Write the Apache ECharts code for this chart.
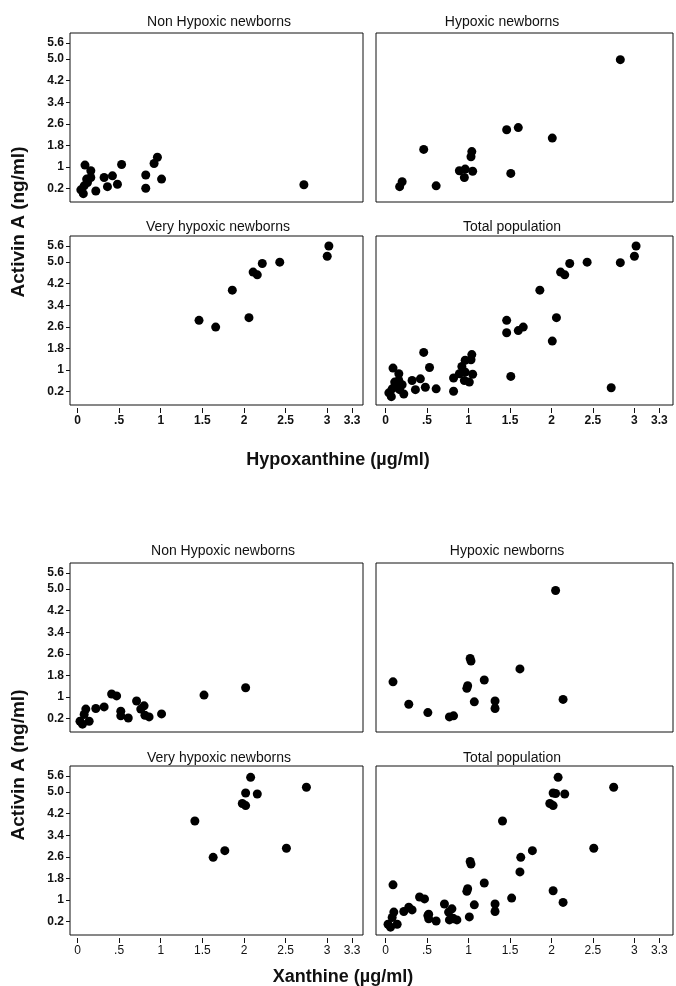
<!DOCTYPE html>
<html>
<head>
<meta charset="utf-8">
<script src="https://cdn.jsdelivr.net/npm/echarts@6/dist/echarts.min.js"></script>
<style>
  html, body { margin: 0; background: #fff; }
  #chart { width: 676px; height: 986px; }
</style>
</head>
<body>
<div id="chart"></div>
<script>
// panel titles, in order: top-left, top-right, bottom-left, bottom-right
var panelTitles = ['Non Hypoxic newborns', 'Hypoxic newborns', 'Very hypoxic newborns', 'Total population'];

var yTicks = [0.2, 1, 1.8, 2.6, 3.4, 4.2, 5.0, 5.6];
var yTickLabels = ['0.2', '1', '1.8', '2.6', '3.4', '4.2', '5.0', '5.6'];
var xTicks = [0, 0.5, 1, 1.5, 2, 2.5, 3, 3.3];
var xTickLabels = ['0', '.5', '1', '1.5', '2', '2.5', '3', '3.3'];

// Hypoxanthine (ug/ml) vs Activin A (ng/ml)
var hxNonHypoxic = [
  [0.09, 1.07], [0.16, 0.86], [0.16, 0.61], [0.11, 0.55], [0.12, 0.42], [0.08, 0.30],
  [0.04, 0.15], [0.07, 0.01], [0.22, 0.11], [0.32, 0.61], [0.36, 0.27], [0.42, 0.67],
  [0.48, 0.36], [0.53, 1.09], [0.82, 0.70], [0.82, 0.21], [0.92, 1.13], [0.96, 1.36],
  [1.01, 0.55], [2.72, 0.34]
];
var hxHypoxic = [
  [2.83, 4.98], [1.46, 2.38], [1.60, 2.46], [2.01, 2.07], [0.46, 1.65], [1.04, 1.57],
  [1.03, 1.38], [0.89, 0.86], [0.96, 0.92], [1.05, 0.84], [0.95, 0.61], [1.51, 0.76],
  [0.61, 0.30], [0.20, 0.45], [0.17, 0.27]
];
var hxVeryHypoxic = [
  [3.02, 5.60], [3.00, 5.22], [2.43, 5.00], [2.22, 4.95], [2.11, 4.63], [2.16, 4.53],
  [1.86, 3.96], [2.06, 2.94], [1.46, 2.84], [1.66, 2.59]
];

// Xanthine (ug/ml) vs Activin A (ng/ml)
var xnNonHypoxic = [
  [2.02, 1.34], [1.52, 1.07], [0.41, 1.11], [0.47, 1.04], [0.71, 0.85], [0.80, 0.67],
  [0.76, 0.55], [0.81, 0.32], [0.86, 0.26], [1.01, 0.37], [0.52, 0.47], [0.52, 0.30],
  [0.61, 0.22], [0.32, 0.63], [0.22, 0.57], [0.10, 0.55], [0.08, 0.35], [0.14, 0.10],
  [0.03, 0.10], [0.06, -0.01]
];
var xnHypoxic = [
  [2.05, 4.95], [1.02, 2.43], [1.03, 2.33], [1.62, 2.04], [1.19, 1.63], [0.99, 1.42],
  [0.98, 1.32], [0.09, 1.56], [0.28, 0.73], [1.07, 0.82], [1.32, 0.85], [1.32, 0.57],
  [2.14, 0.91], [0.51, 0.42], [0.77, 0.26], [0.82, 0.30]
];
var xnVeryHypoxic = [
  [2.08, 5.55], [2.75, 5.18], [2.02, 4.97], [2.16, 4.93], [1.98, 4.58], [2.02, 4.50],
  [1.41, 3.93], [2.51, 2.92], [1.77, 2.83], [1.63, 2.58]
];

var figures = [
  [hxNonHypoxic, hxHypoxic, hxVeryHypoxic, hxNonHypoxic.concat(hxHypoxic, hxVeryHypoxic)],
  [xnNonHypoxic, xnHypoxic, xnVeryHypoxic, xnNonHypoxic.concat(xnHypoxic, xnVeryHypoxic)]
];

// layout of the panels
var cols = [
  { left: 70, width: 293, min: -0.09, max: 3.43 },
  { left: 376, width: 297, min: -0.115, max: 3.465 }
];
var rowTops = [[33, 236], [563, 766]];
var titleY = [[22, 227], [551, 758]];
var titleX = [[219, 502, 218, 512], [223, 507, 219, 512]];

var grids = [], xAxes = [], yAxes = [], series = [], texts = [];
var font = '"Liberation Sans", Arial, Helvetica, sans-serif';

for (var f = 0; f < 2; f++) {
  for (var r = 0; r < 2; r++) {
    for (var c = 0; c < 2; c++) {
      var p = r * 2 + c;
      var i = grids.length;
      grids.push({
        left: cols[c].left, top: rowTops[f][r], width: cols[c].width, height: 169,
        show: true, borderColor: '#111', borderWidth: 1, backgroundColor: 'transparent'
      });
      // axes sit on the box edges, not on zero
      xAxes.push({
        gridIndex: i, type: 'value', min: cols[c].min, max: cols[c].max, offset: 3,
        splitLine: { show: false },
        axisLine: { show: false, onZero: false },
        axisTick: { show: r === 1, length: 5, customValues: xTicks, lineStyle: { color: '#111' } },
        axisLabel: {
          show: r === 1, customValues: xTicks, margin: 7, fontSize: 12, color: '#111',
          fontFamily: font, fontWeight: f === 0 ? 'bold' : 'normal',
          formatter: function (v) { return xTickLabels[xTicks.indexOf(v)]; }
        }
      });
      yAxes.push({
        gridIndex: i, type: 'value', min: -0.3, max: 5.97,
        splitLine: { show: false },
        axisLine: { show: false, onZero: false },
        axisTick: { show: c === 0, length: 4, customValues: yTicks, lineStyle: { color: '#111' } },
        axisLabel: {
          show: c === 0, customValues: yTicks, margin: 6, fontSize: 12, color: '#111',
          fontFamily: font, fontWeight: 'bold',
          formatter: function (v) { return yTickLabels[yTicks.indexOf(v)]; }
        }
      });
      series.push({
        type: 'scatter', xAxisIndex: i, yAxisIndex: i,
        data: figures[f][p], symbolSize: 9,
        itemStyle: { color: '#000', opacity: 1 }
      });
      texts.push({
        type: 'text', x: titleX[f][p], y: titleY[f][r],
        style: { text: panelTitles[p], fontSize: 14, fontFamily: font, fill: '#111', textAlign: 'center', textVerticalAlign: 'middle' }
      });
    }
  }
}

// axis titles
var axisTitles = [
  { text: 'Hypoxanthine (\u00b5g/ml)', x: 338, y: 460, rot: 0, size: 18 },
  { text: 'Xanthine (\u00b5g/ml)', x: 343, y: 977, rot: 0, size: 18 },
  { text: 'Activin A (ng/ml)', x: 19, y: 222, rot: Math.PI / 2, size: 19 },
  { text: 'Activin A (ng/ml)', x: 19, y: 765, rot: Math.PI / 2, size: 19 }
];
axisTitles.forEach(function (t) {
  texts.push({
    type: 'text', x: t.x, y: t.y, rotation: t.rot,
    style: { text: t.text, fontSize: t.size, fontWeight: 'bold', fontFamily: font, fill: '#111', textAlign: 'center', textVerticalAlign: 'middle' }
  });
});

var chart = echarts.init(document.getElementById('chart'));
chart.setOption({
  animation: false,
  backgroundColor: '#fff',
  grid: grids,
  xAxis: xAxes,
  yAxis: yAxes,
  series: series,
  graphic: texts
});
</script>
</body>
</html>
